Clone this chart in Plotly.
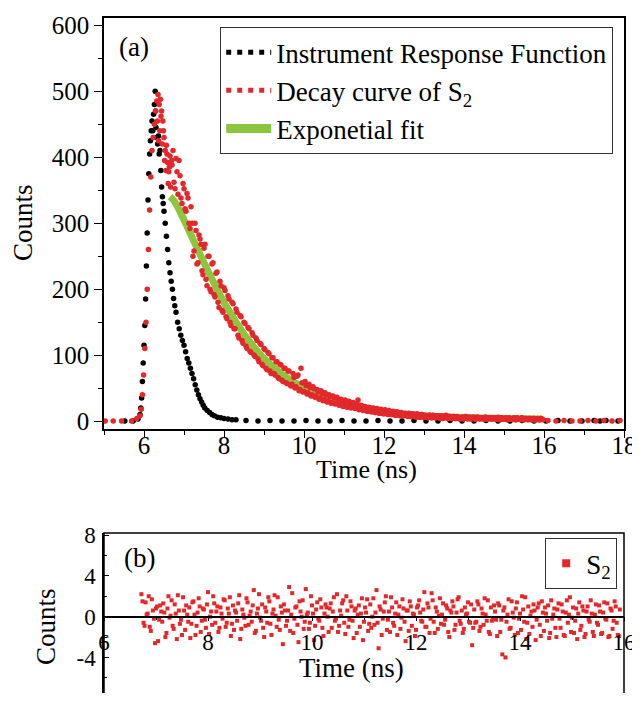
import plotly.graph_objects as go

# ---------------- data ----------------
irf_time = [5.52, 5.73, 5.85, 5.90, 5.92, 5.94, 5.96, 5.98, 6.00, 6.02, 6.04, 6.06, 6.08, 6.10,
            6.12, 6.14, 6.16, 6.18, 6.20, 6.22, 6.24, 6.26, 6.28, 6.29, 6.30, 6.32, 6.34, 6.36,
            6.38, 6.40, 6.42, 6.44, 6.46, 6.48, 6.50, 6.53, 6.56, 6.59, 6.62, 6.65, 6.68, 6.71,
            6.74, 6.77, 6.80, 6.84, 6.88, 6.92, 6.96, 7.00, 7.04, 7.08, 7.12, 7.16, 7.20, 7.24,
            7.28, 7.32, 7.36, 7.40, 7.44, 7.48, 7.52, 7.58, 7.64, 7.70, 7.76, 7.84, 7.92, 8.00,
            8.10, 8.20, 8.30, 8.55, 8.85, 9.15, 9.45, 9.75, 10.05, 10.35, 10.65, 10.95, 11.25,
            11.55, 11.85, 12.15, 12.45, 12.75, 13.05, 13.35, 13.65, 13.95, 14.25, 14.55, 14.85,
            15.15, 15.45, 15.75, 16.05, 16.35, 16.65, 16.95, 17.25, 17.40, 17.55, 17.85]
irf_counts = [0, 0, 3, 10, 20, 35, 60, 88, 115, 145, 185, 235, 285, 335,
              375, 405, 425, 440, 455, 440, 465, 480, 500, 470, 445, 430, 420, 432,
              405, 410, 380, 355, 340, 330, 318, 300, 280, 260, 240, 225, 212, 200,
              186, 175, 165, 150, 140, 130, 122, 115, 105, 95, 88, 80, 72, 64,
              55, 47, 40, 34, 29, 24, 20, 16, 13, 10, 8, 6, 5, 4,
              3, 2, 2, 1, 0, 1, 0, 0, 1, 0, 0, 1, 0,
              0, 1, 0, 0, 1, 0, 0, 1, 0, 0, 1, 0,
              0, 1, 0, 0, 1, 0, 0, 1, 0, 1, 0]

# decay curve, first set of channels
decay_time = [5.03, 5.23, 5.44, 5.69, 5.82, 5.90, 5.93, 5.96, 5.99, 6.02, 6.05, 6.08, 6.11, 6.14,
              6.17, 6.20, 6.23, 6.26, 6.29, 6.32, 6.35, 6.38, 6.41, 6.44, 6.47, 6.50, 6.53, 6.56,
              6.59, 6.62, 6.65,
              6.70, 6.75, 6.80, 6.85, 6.90, 6.95, 7.00, 7.05, 7.10, 7.15,
              7.20, 7.25, 7.30, 7.35, 7.40, 7.45, 7.50, 7.55, 7.60, 7.65,
              7.70, 7.75, 7.80, 7.85, 7.90, 7.95, 8.00, 8.05, 8.10, 8.15,
              8.20, 8.25, 8.30, 8.35, 8.40, 8.45, 8.50, 8.55, 8.60, 8.65,
              8.70, 8.75, 8.80, 8.85, 8.90, 8.95, 9.00, 9.05, 9.10, 9.15,
              9.20, 9.25, 9.30, 9.35, 9.40, 9.45, 9.50, 9.55, 9.60, 9.65,
              9.70, 9.75, 9.80, 9.85, 9.90, 9.95, 10.00, 10.05, 10.10, 10.15,
              10.20, 10.25, 10.30, 10.35, 10.40, 10.45, 10.50, 10.55, 10.60, 10.65,
              10.70, 10.75, 10.80, 10.85, 10.90, 10.95, 11.00, 11.05, 11.10, 11.15,
              11.20, 11.25, 11.30, 11.35, 11.40, 11.45, 11.50, 11.55, 11.60, 11.65,
              11.70, 11.75, 11.80, 11.85, 11.90, 11.95, 12.00, 12.05, 12.10, 12.15,
              12.20, 12.25, 12.30, 12.35, 12.40, 12.45, 12.50, 12.55, 12.60, 12.65,
              12.70, 12.75, 12.80, 12.85, 12.90, 12.95, 13.00, 13.05, 13.10, 13.15,
              13.20, 13.25, 13.30, 13.35, 13.40, 13.45, 13.50, 13.55, 13.60, 13.65,
              13.70, 13.75, 13.80, 13.85, 13.90, 13.95, 14.00, 14.05, 14.10, 14.15,
              14.20, 14.25, 14.30, 14.35, 14.40, 14.45, 14.50, 14.55, 14.60, 14.65,
              14.70, 14.75, 14.80, 14.85, 14.90, 14.95, 15.00, 15.05, 15.10, 15.15,
              15.20, 15.25, 15.30, 15.35, 15.40, 15.45, 15.50, 15.55, 15.60, 15.65,
              15.70, 15.75, 15.80, 15.85, 15.90, 15.95,
              16.10, 16.30, 16.50, 16.70, 16.90, 17.10, 17.30, 17.50, 17.70, 17.90]
decay_counts = [0, 0, 0, 0, 4, 8, 18, 40, 70, 110, 150, 200, 260, 320,
                370, 410, 430, 450, 470, 485, 495, 480, 488, 470, 455, 430, 410, 418,
                392, 378, 402,
                388, 362, 398, 344, 372, 330, 352, 318, 338, 292,
                300, 258, 289, 240, 276, 228, 262, 215, 250, 200,
                238, 192, 224, 180, 212, 168, 202, 158, 190, 150,
                180, 140, 170, 130, 160, 122, 150, 114, 142, 106,
                134, 100, 126, 94, 118, 86, 110, 80, 104, 76,
                96, 72, 90, 66, 86, 62, 80, 58, 76, 55,
                56, 66, 52, 70, 48, 58, 45, 54, 43, 51,
                40, 49, 38, 45, 35, 42, 33, 40, 31, 37,
                28, 35, 27, 33, 25, 31, 24, 30, 22, 27,
                21, 26, 20, 32, 18, 23, 17, 21, 15, 20,
                14, 19, 13, 17, 12, 16, 11, 15, 10, 14,
                10, 14, 9, 13, 8, 12, 8, 11, 7, 11,
                7, 10, 6, 9, 6, 10, 6, 8, 5, 9,
                5, 8, 5, 8, 4, 7, 5, 9, 4, 7,
                4, 7, 4, 6, 3, 6, 4, 7, 3, 6,
                4, 6, 3, 6, 3, 5, 4, 6, 3, 5,
                3, 5, 3, 6, 2, 5, 3, 5, 2, 4,
                3, 5, 2, 4, 3, 5, 2, 4, 2, 4,
                3, 4, 2, 4, 2, 3,
                1, 0, 1, 0, 0, 1, 0, 1, 0, 1]

# decay curve, interleaved second set of channels
decay_time_b = [6.335, 6.365, 6.395, 6.425, 6.455, 6.485, 6.515, 6.545, 6.575, 6.605, 6.635,
                6.665, 6.695,
                6.725, 6.775, 6.825, 6.875, 6.925, 6.975, 7.025, 7.075, 7.125, 7.175,
                7.225, 7.275, 7.325, 7.375, 7.425, 7.475, 7.525, 7.575, 7.625, 7.675,
                7.725, 7.775, 7.825, 7.875, 7.925, 7.975, 8.025, 8.075, 8.125, 8.175,
                8.225, 8.275, 8.325, 8.375, 8.425, 8.475, 8.525, 8.575, 8.625, 8.675,
                8.725, 8.775, 8.825, 8.875, 8.925, 8.975, 9.025, 9.075, 9.125, 9.175,
                9.225, 9.275, 9.325, 9.375, 9.425, 9.475, 9.525, 9.575, 9.625, 9.675,
                9.725, 9.775, 9.825, 9.875, 9.925, 9.975, 10.025, 10.075, 10.125, 10.175,
                10.225, 10.275, 10.325, 10.375, 10.425, 10.475, 10.525, 10.575, 10.625, 10.675,
                10.725, 10.775, 10.825, 10.875, 10.925, 10.975, 11.025, 11.075, 11.125, 11.175,
                11.225, 11.275, 11.325, 11.375, 11.425, 11.475, 11.525, 11.575, 11.625, 11.675,
                11.725, 11.775, 11.825, 11.875, 11.925, 11.975, 12.025, 12.075, 12.125, 12.175,
                12.225, 12.275, 12.325, 12.375, 12.425, 12.475, 12.525, 12.575, 12.625, 12.675,
                12.725, 12.775, 12.825, 12.875, 12.925, 12.975, 13.025, 13.075, 13.125, 13.175,
                13.225, 13.275, 13.325, 13.375, 13.425, 13.475, 13.525, 13.575, 13.625, 13.675,
                13.725, 13.775, 13.825, 13.875, 13.925, 13.975, 14.025, 14.075, 14.125, 14.175,
                14.225, 14.275, 14.325, 14.375, 14.425, 14.475, 14.525, 14.575, 14.625, 14.675,
                14.725, 14.775, 14.825, 14.875, 14.925, 14.975, 15.025, 15.075, 15.125, 15.175,
                15.225, 15.275, 15.325, 15.375, 15.425, 15.475, 15.525, 15.575, 15.625, 15.675,
                15.725, 15.775, 15.825, 15.875, 15.925, 15.975]
decay_counts_b = [455, 425, 440, 462, 420, 440, 395, 380, 405, 360, 385,
                  355, 395,
                  410, 352, 378, 395, 338, 360, 322, 345, 300, 325,
                  250, 300, 238, 282, 268, 222, 268, 205, 250, 196,
                  240, 188, 226, 172, 205, 165, 198, 155, 185, 145,
                  178, 140, 165, 126, 158, 118, 148, 110, 140, 104,
                  130, 98, 122, 90, 116, 84, 108, 78, 102, 72,
                  96, 70, 90, 64, 85, 60, 80, 57, 76, 53,
                  72, 50, 68, 46, 80, 44, 60, 41, 56, 38,
                  52, 36, 48, 33, 46, 31, 43, 29, 40, 27,
                  38, 26, 36, 24, 33, 22, 32, 21, 30, 20,
                  28, 19, 26, 17, 24, 16, 22, 15, 21, 14,
                  20, 13, 19, 12, 18, 11, 17, 11, 16, 10,
                  15, 9, 14, 9, 13, 8, 12, 8, 12, 7,
                  11, 7, 11, 6, 10, 6, 9, 6, 9, 5,
                  9, 5, 8, 5, 8, 4, 8, 5, 7, 4,
                  7, 4, 7, 4, 6, 3, 7, 4, 6, 3,
                  6, 3, 6, 4, 5, 3, 6, 3, 5, 3,
                  5, 3, 5, 2, 5, 3, 4, 2, 5, 3,
                  4, 2, 5, 3, 4, 2, 4, 3, 4, 2,
                  4, 2, 3, 2, 4, 2]

fit_time = [6.65, 6.75, 7.00, 7.25, 7.50, 7.75, 8.00, 8.25, 8.50, 8.75, 9.00, 9.25, 9.50, 9.75,
            10.00, 10.25, 10.50, 10.75, 11.00, 11.25, 11.50, 11.75, 12.00, 12.25, 12.50, 12.75,
            13.00, 13.50, 14.00, 14.50, 15.00, 15.50, 15.95]
fit_counts = [340, 334, 305, 272, 240, 209, 180, 155, 132, 112, 95, 81, 69, 59,
              50, 43, 36, 31, 27, 23, 19, 16.5, 14, 12, 10.5, 9,
              8, 6.5, 5.5, 4.5, 4, 3.5, 3]

resid_time = [6.72, 6.76, 6.80, 6.84, 6.88, 6.92, 6.96, 7.00, 7.04, 7.08,
              7.12, 7.16, 7.20, 7.24, 7.28, 7.32, 7.36, 7.40, 7.44, 7.48,
              7.52, 7.56, 7.60, 7.64, 7.68, 7.72, 7.76, 7.80, 7.84, 7.88,
              7.92, 7.96, 8.00, 8.04, 8.08, 8.12, 8.16, 8.20, 8.24, 8.28,
              8.32, 8.36, 8.40, 8.44, 8.48, 8.52, 8.56, 8.60, 8.64, 8.68,
              8.72, 8.76, 8.80, 8.84, 8.88, 8.92, 8.96, 9.00, 9.04, 9.08,
              9.12, 9.16, 9.20, 9.24, 9.28, 9.32, 9.36, 9.40, 9.44, 9.48,
              9.52, 9.56, 9.60, 9.64, 9.68, 9.72, 9.76, 9.80, 9.84, 9.88,
              9.92, 9.96, 10.00, 10.04, 10.08, 10.12, 10.16, 10.20, 10.24, 10.28,
              10.32, 10.36, 10.40, 10.44, 10.48, 10.52, 10.56, 10.60, 10.64, 10.68,
              10.72, 10.76, 10.80, 10.84, 10.88, 10.92, 10.96, 11.00, 11.04, 11.08,
              11.12, 11.16, 11.20, 11.24, 11.28, 11.32, 11.36, 11.40, 11.44, 11.48,
              11.52, 11.56, 11.60, 11.64, 11.68, 11.72, 11.76, 11.80, 11.84, 11.88,
              11.92, 11.96, 12.00, 12.04, 12.08, 12.12, 12.16, 12.20, 12.24, 12.28,
              12.32, 12.36, 12.40, 12.44, 12.48, 12.52, 12.56, 12.60, 12.64, 12.68,
              12.72, 12.76, 12.80, 12.84, 12.88, 12.92, 12.96, 13.00, 13.04, 13.08,
              13.12, 13.16, 13.20, 13.24, 13.28, 13.32, 13.36, 13.40, 13.44, 13.48,
              13.52, 13.56, 13.60, 13.64, 13.68, 13.72, 13.76, 13.80, 13.84, 13.88,
              13.92, 13.96, 14.00, 14.04, 14.08, 14.12, 14.16, 14.20, 14.24, 14.28,
              14.32, 14.36, 14.40, 14.44, 14.48, 14.52, 14.56, 14.60, 14.64, 14.68,
              14.72, 14.76, 14.80, 14.84, 14.88, 14.92, 14.96, 15.00, 15.04, 15.08,
              15.12, 15.16, 15.20, 15.24, 15.28, 15.32, 15.36, 15.40, 15.44, 15.48,
              15.52, 15.56, 15.60, 15.64, 15.68, 15.72, 15.76, 15.80, 15.84, 15.88,
              15.92]
resid_counts = [2.2, -0.6, 1.4, 0.3, -1.0, 1.7, -0.2, 0.8, -2.4, 1.1,
                -0.5, 0.4, -1.6, 2.0, 0.1, -0.9, 1.2, -2.2, 0.6, -0.3,
                1.9, -1.3, 0.2, 0.9, -0.7, 1.5, -1.8, 0.4, 1.0, -0.4,
                0.7, -1.1, 2.4, 0.0, -0.8, 1.3, 0.5, -1.5, 0.9, -0.2,
                1.6, -0.6, 0.3, -1.9, 1.1, 0.6, -0.4, 2.1, -1.2, 0.2,
                -0.9, 1.4, 0.1, -0.5, 2.6, -1.4, 0.8, -0.1, 1.2, -2.0,
                0.5, 1.9, -0.7, 0.3, 2.1, -1.0, -0.3, 1.0, -2.7, 0.6,
                -0.4, 2.9, 0.2, -1.6, 0.9, -0.8, 1.5, 0.0, -1.2, 2.7,
                0.4, -0.6, 1.1, -2.3, 0.7, -0.2, 1.7, -1.1, 0.3, 0.9,
                -1.5, 1.3, 0.5, -0.4, 2.2, -0.9, 0.1, 1.6, -1.7, 0.6,
                -0.3, 1.0, -2.1, 0.8, 0.2, -1.0, 1.8, -0.5, 0.4, -1.4,
                1.2, 0.0, -0.8, 2.6, -3.1, 0.7, -0.2, 1.4, -1.3, 0.5,
                1.9, -0.6, 0.3, -1.8, 1.0, -0.1, 0.8, -2.4, 0.6, 1.5,
                -0.9, 0.2, -1.3, 1.1, 0.4, -0.5, 2.4, -1.0, 0.9, -0.2,
                1.6, -1.6, 0.5, 0.1, -0.7, 1.3, -0.3, 0.8, -2.0, 0.4,
                1.0, -0.8, 1.7, -0.4, 0.6, -1.2, 0.2, 1.4, -0.6, -2.8,
                0.7, -0.5, 1.2, -1.0, 0.3, 1.8, -0.4, -1.5, 0.9, -0.2,
                0.5, -1.9, 1.1, -0.3, 0.6, -4.0, 0.2, -1.2, 1.5, -0.1,
                0.8, -1.6, 0.3, 2.0, -0.5, -2.2, 1.0, 0.1, -1.0, 0.6,
                -0.3, 1.3, -1.9, 0.4, 0.9, -0.4, -2.1, 1.6, 0.2, -1.1,
                0.7, -0.2, 1.2, -1.8, 0.4, -0.6, 1.9, -0.1, -1.6, 0.8,
                0.3, -1.3, 1.0, -2.0, 0.5, -0.3, 1.6, -1.5, 0.2, -0.6,
                1.1, -1.7, 0.4, -0.2, 1.3, -1.9, 0.6, -0.4, 1.0, -1.8,
                0.7]

resid_time_b = [6.74, 6.78, 6.82, 6.86, 6.90, 6.94, 6.98, 7.02, 7.06, 7.10,
                7.14, 7.18, 7.22, 7.26, 7.30, 7.34, 7.38, 7.42, 7.46, 7.50,
                7.54, 7.58, 7.62, 7.66, 7.70, 7.74, 7.78, 7.82, 7.86, 7.90,
                7.94, 7.98, 8.02, 8.06, 8.10, 8.14, 8.18, 8.22, 8.26, 8.30,
                8.34, 8.38, 8.42, 8.46, 8.50, 8.54, 8.58, 8.62, 8.66, 8.70,
                8.74, 8.78, 8.82, 8.86, 8.90, 8.94, 8.98, 9.02, 9.06, 9.10,
                9.14, 9.18, 9.22, 9.26, 9.30, 9.34, 9.38, 9.42, 9.46, 9.50,
                9.54, 9.58, 9.62, 9.66, 9.70, 9.74, 9.78, 9.82, 9.86, 9.90,
                9.94, 9.98, 10.02, 10.06, 10.10, 10.14, 10.18, 10.22, 10.26, 10.30,
                10.34, 10.38, 10.42, 10.46, 10.50, 10.54, 10.58, 10.62, 10.66, 10.70,
                10.74, 10.78, 10.82, 10.86, 10.90, 10.94, 10.98, 11.02, 11.06, 11.10,
                11.14, 11.18, 11.22, 11.26, 11.30, 11.34, 11.38, 11.42, 11.46, 11.50,
                11.54, 11.58, 11.62, 11.66, 11.70, 11.74, 11.78, 11.82, 11.86, 11.90,
                11.94, 11.98, 12.02, 12.06, 12.10, 12.14, 12.18, 12.22, 12.26, 12.30,
                12.34, 12.38, 12.42, 12.46, 12.50, 12.54, 12.58, 12.62, 12.66, 12.70,
                12.74, 12.78, 12.82, 12.86, 12.90, 12.94, 12.98, 13.02, 13.06, 13.10,
                13.14, 13.18, 13.22, 13.26, 13.30, 13.34, 13.38, 13.42, 13.46, 13.50,
                13.54, 13.58, 13.62, 13.66, 13.70, 13.74, 13.78, 13.82, 13.86, 13.90,
                13.94, 13.98, 14.02, 14.06, 14.10, 14.14, 14.18, 14.22, 14.26, 14.30,
                14.34, 14.38, 14.42, 14.46, 14.50, 14.54, 14.58, 14.62, 14.66, 14.70,
                14.74, 14.78, 14.82, 14.86, 14.90, 14.94, 14.98, 15.02, 15.06, 15.10,
                15.14, 15.18, 15.22, 15.26, 15.30, 15.34, 15.38, 15.42, 15.46, 15.50,
                15.54, 15.58, 15.62, 15.66, 15.70, 15.74, 15.78, 15.82, 15.86, 15.90]
resid_counts_b = [1.5, -0.9, 0.2, 2.0, -1.4, 0.6, -2.6, 1.0, -0.3, 0.5,
                  1.3, -2.0, 0.8, -0.1, 1.6, -1.2, 0.3, 2.1, -0.7, -1.8,
                  0.6, 1.1, -0.5, -2.1, 1.4, 0.2, -0.9, 1.8, -1.5, 0.8,
                  -0.3, 1.2, -1.7, 0.5, 2.0, -0.6, 1.0, -1.1, 0.3, 1.7,
                  -1.0, 0.8, 1.9, -0.7, -1.3, 0.4, 1.3, -2.2, 0.7, -0.1,
                  1.8, -0.8, 0.5, 1.1, -1.6, 0.3, 2.2, -0.4, -1.1, 0.9,
                  -0.6, 1.5, -1.8, 0.7, 0.1, 1.9, -1.3, 0.4, 1.2, -0.9,
                  0.6, -1.4, 2.3, -0.2, 1.0, -2.5, 0.5, 1.6, -0.5, 0.2,
                  -1.2, 2.0, 0.3, -0.9, 1.4, -0.4, 0.9, -1.9, 1.2, 0.0,
                  0.8, -1.1, 1.9, -0.2, -1.5, 0.6, 1.3, -0.6, 2.0, -1.0,
                  1.5, -0.4, 0.6, -1.6, 1.1, 0.3, -2.3, 0.9, 1.7, -0.7,
                  -1.1, 1.8, 0.4, -0.6, 1.0, -1.8, 0.5, 2.0, -0.3, -1.5,
                  0.9, -0.9, 1.4, 0.2, -1.2, 1.7, -0.5, 0.6, -1.4, 1.0,
                  0.3, -1.9, 0.9, 1.6, -0.4, 0.7, -1.0, 1.3, -1.6, 2.3,
                  -0.5, 0.9, -1.2, 1.8, 0.2, -0.8, 1.1, -1.5, 0.6, 1.5,
                  -1.3, 0.4, 1.9, -0.7, -1.6, 0.9, 0.3, -0.5, 1.2, -1.1,
                  -0.6, 1.5, -1.4, 0.8, -0.8, 0.2, 1.6, -1.7, -0.4, 1.1,
                  -0.3, 1.3, -1.5, -3.7, 0.9, -0.5, 1.7, -1.1, 0.4, -1.8,
                  1.4, -0.2, -1.3, 0.7, 1.9, -0.6, -1.7, 0.5, 1.2, -2.3,
                  0.9, -0.8, 1.5, -1.4, 0.3, 1.1, -1.6, -0.2, 0.8, -2.0,
                  1.3, -1.1, 0.5, -1.9, 1.6, 0.2, -1.5, 0.9, -0.4, -2.2,
                  1.4, -0.9, 0.6, -1.7, 1.0, -0.5, 0.3, -1.9, 1.2, -0.8,
                  0.5, -1.6, 1.4, -0.3, -2.0, 0.8, -1.2, 1.5, -0.6, -1.9]

top_y_ticks = [0, 100, 200, 300, 400, 500, 600]
top_x_ticks = [6, 8, 10, 12, 14, 16, 18]
bot_y_ticks = [-8, -4, 0, 4, 8]
bot_y_labels = ["-8", "-4", "0", "4", "8"]
bot_x_ticks = [6, 8, 10, 12, 14, 16]

# ---------------- style ----------------
FONT = "Liberation Serif"
RED = "#e3272a"
GREEN = "#8cc63f"
OFF = 8                      # page body margin in the browser
WIN_W, WIN_H = 640, 701
W, H = WIN_W - OFF, WIN_H - 2 * OFF          # keep the page from scrolling
PLOT_L, PLOT_R, PLOT_T = 104, 624, 18        # target plot box on screen
PLOT_B = OFF + H
ML, MR, MT, MB = PLOT_L - OFF, OFF + W - PLOT_R, PLOT_T - OFF, 0
PH = PLOT_B - PLOT_T
PW = PLOT_R - PLOT_L


def py(px):
    return (PLOT_B - px) / PH


def px_x(px):
    return (px - PLOT_L) / PW


top_dom = [py(429), 1.0]
bot_dom = [0.0, py(533)]
# residual panel: 8 at y=535 px, 10.2 px per count, cut by the page bottom
bot_top_val = 8.2
bot_range = [bot_top_val - (PLOT_B - 533) / 10.2, bot_top_val]
zero_pos = bot_dom[0] + (0 - bot_range[0]) / (bot_range[1] - bot_range[0]) * (bot_dom[1] - bot_dom[0])

fig = go.Figure()

# top panel
fig.add_trace(go.Scatter(x=irf_time, y=irf_counts, mode="markers", xaxis="x", yaxis="y",
                         marker=dict(color="black", size=5.5), showlegend=False))
fig.add_trace(go.Scatter(x=fit_time, y=fit_counts, mode="lines", xaxis="x", yaxis="y",
                         line=dict(color=GREEN, width=7, shape="spline"), showlegend=False))
fig.add_trace(go.Scatter(x=decay_time, y=decay_counts, mode="markers", xaxis="x", yaxis="y",
                         marker=dict(color=RED, size=5.5), showlegend=False))
fig.add_trace(go.Scatter(x=decay_time_b, y=decay_counts_b, mode="markers", xaxis="x", yaxis="y",
                         marker=dict(color=RED, size=5.5), showlegend=False))
# empty trace so the label-only x axis of panel (a) is drawn
fig.add_trace(go.Scatter(x=[None], y=[None], mode="markers", xaxis="x3", yaxis="y",
                         showlegend=False, hoverinfo="skip"))

# legend keys (dotted / thick-line keys as in the reference)
fig.add_trace(go.Scatter(x=[None], y=[None], mode="lines", name="Instrument Response Function",
                         line=dict(color="black", width=5, dash="5px,6px"), legend="legend"))
fig.add_trace(go.Scatter(x=[None], y=[None], mode="lines", name="Decay curve of S<sub>2</sub>",
                         line=dict(color=RED, width=5, dash="5px,6px"), legend="legend"))
fig.add_trace(go.Scatter(x=[None], y=[None], mode="lines", name="Exponetial fit",
                         line=dict(color=GREEN, width=9), legend="legend"))

# bottom panel
fig.add_trace(go.Scatter(x=resid_time, y=resid_counts, mode="markers", xaxis="x2", yaxis="y2",
                         marker=dict(color=RED, size=4, symbol="square"), showlegend=False))
fig.add_trace(go.Scatter(x=resid_time_b, y=resid_counts_b, mode="markers", xaxis="x2", yaxis="y2",
                         marker=dict(color=RED, size=4, symbol="square"), showlegend=False))
fig.add_trace(go.Scatter(x=[None], y=[None], mode="markers", name="S<sub>2</sub>",
                         xaxis="x2", yaxis="y2",
                         marker=dict(color=RED, size=8, symbol="square"), legend="legend2"))

axis_common = dict(showgrid=False, zeroline=False, showline=True, linecolor="black",
                   linewidth=1.5, tickcolor="black", tickwidth=1.3, ticklabeloverflow="allow")
top_tickfont = dict(family=FONT, size=25, color="black")
bot_tickfont = dict(family=FONT, size=23, color="black")

fig.update_layout(
    width=W, height=H,
    margin=dict(l=ML, r=MR, t=MT, b=MB, autoexpand=False),
    paper_bgcolor="white", plot_bgcolor="white",
    font=dict(family=FONT, color="black"),
    xaxis=dict(domain=[0, 1], range=[5, 18], anchor="y", mirror=True, ticks="outside",
               ticklen=7, tickvals=top_x_ticks, showticklabels=False,
               minor=dict(dtick=1, tick0=0, ticks="outside", ticklen=4, tickcolor="black"),
               **axis_common),
    xaxis3=dict(domain=[0, 1], range=[5, 18], overlaying="x", anchor="free",
                position=py(428), side="bottom", showgrid=False, zeroline=False,
                showline=False, ticks="", tickvals=top_x_ticks, tickfont=top_tickfont,
                ticklabeloverflow="allow"),
    yaxis=dict(domain=top_dom, range=[-12, 611], anchor="x", mirror=True, ticks="outside",
               ticklen=8, tickvals=top_y_ticks, tickfont=top_tickfont,
               minor=dict(dtick=50, tick0=0, ticks="outside", ticklen=4, tickcolor="black"),
               **axis_common),
    xaxis2=dict(domain=[0, 1], range=[6, 16], anchor="free", position=zero_pos,
                ticks="outside", ticklen=4, tickvals=bot_x_ticks, tickfont=bot_tickfont,
                ticklabelstandoff=1,
                minor=dict(dtick=1, tick0=0, ticks="outside", ticklen=3, tickcolor="black"),
                **axis_common),
    yaxis2=dict(domain=bot_dom, range=bot_range, anchor="x2", ticks="inside", ticklen=5,
                tickvals=bot_y_ticks, ticktext=bot_y_labels, tickfont=bot_tickfont,
                ticklabelstandoff=2,
                minor=dict(dtick=2, tick0=0, ticks="inside", ticklen=3, tickcolor="black"),
                **axis_common),
    legend=dict(x=px_x(613), y=py(27), xanchor="right", yanchor="top",
                bgcolor="white", bordercolor="#333333", borderwidth=1.2,
                font=dict(family=FONT, size=27, color="black"), itemwidth=45,
                tracegroupgap=0),
    legend2=dict(x=px_x(617), y=py(538), xanchor="right", yanchor="top",
                 bgcolor="white", bordercolor="#333333", borderwidth=1.2,
                 font=dict(family=FONT, size=27, color="black"), itemwidth=30),
    shapes=[dict(type="rect", xref="x2 domain", yref="y2 domain", x0=0, x1=1, y0=-0.2, y1=1,
                 line=dict(color="black", width=1.5), layer="above")],
    annotations=[
        dict(text="(a)", x=px_x(117), y=py(47), xref="paper", yref="paper",
             xanchor="left", yanchor="middle", showarrow=False,
             font=dict(family=FONT, size=27)),
        dict(text="(b)", x=px_x(122), y=py(558), xref="paper", yref="paper",
             xanchor="left", yanchor="middle", showarrow=False,
             font=dict(family=FONT, size=27)),
        dict(text="Counts", x=px_x(23), y=py(223), xref="paper", yref="paper",
             xanchor="center", yanchor="middle", textangle=-90, showarrow=False,
             font=dict(family=FONT, size=27)),
        dict(text="Time (ns)", x=px_x(366), y=py(470), xref="paper", yref="paper",
             xanchor="center", yanchor="middle", showarrow=False,
             font=dict(family=FONT, size=26)),
        dict(text="Counts", x=px_x(46), y=py(627), xref="paper", yref="paper",
             xanchor="center", yanchor="middle", textangle=-90, showarrow=False,
             font=dict(family=FONT, size=27)),
        dict(text="Time (ns)", x=px_x(351), y=py(668), xref="paper", yref="paper",
             xanchor="center", yanchor="middle", showarrow=False,
             font=dict(family=FONT, size=27)),
    ],
)

fig.write_html("out.html")
